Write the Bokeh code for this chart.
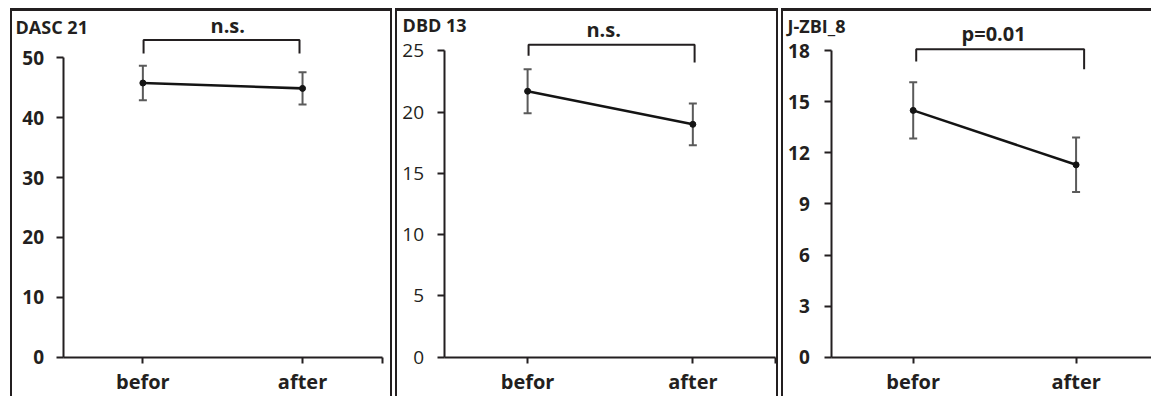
from bokeh.plotting import figure
from bokeh.layouts import row
from bokeh.models import FixedTicker, Range1d, Label, Whisker, ColumnDataSource, TeeHead
from bokeh.embed import file_html
from bokeh.resources import INLINE

# ---------------- data ----------------
categories = ["befor", "after"]
titles = ["DASC 21", "DBD 13", "J-ZBI_8"]
significance = ["n.s.", "n.s.", "p=0.01"]

dasc_mean = [45.8, 44.9]
dasc_err = [2.9, 2.7]
dbd_mean = [21.7, 19.0]
dbd_err = [1.8, 1.7]
zbi_mean = [14.5, 11.3]
zbi_err = [1.65, 1.6]

dasc_ticks = [0, 10, 20, 30, 40, 50]
dbd_ticks = [0, 5, 10, 15, 20, 25]
zbi_ticks = [0, 3, 6, 9, 12, 15, 18]

INK = "#231f20"
FONT = "Open Sans"

# ---------------- layout (page pixels) ----------------
TOP = 11          # canvas top on page
BOTTOM = 396      # canvas bottom on page
AXIS_Y_PAGE = 354  # x axis line on page
TEXT_LIFT = 7     # correction for label baseline placement

B = f"2px solid {INK}"
BT = f"3px solid {INK}"
layouts = [
    dict(origin_x=12, canvas_w=378, yaxis_x=62, xunit=158, ppu=297 / 50, tick_weight="bold",
         standoff=12, tick_size="19px",
         title=(15, 33), sig=(225, 32), br_x=(141.7, 296), br_y=(39.3, 52.7, 52.7),
         margin=(8, 0, 0, 10), bw=4,
         styles={"border-left": B, "border-right": B, "border-top": BT, "box-sizing": "border-box"}),
    dict(origin_x=397, canvas_w=379, yaxis_x=444, xunit=163.5, ppu=304 / 25, tick_weight="normal",
         standoff=14, tick_size="19px",
         title=(402, 31.7), sig=(601, 35.5), br_x=(526.7, 691), br_y=(44, 55, 61.7),
         margin=(8, 0, 0, 3), bw=4,
         styles={"border-left": B, "border-right": B, "border-top": BT, "box-sizing": "border-box"}),
    dict(origin_x=783, canvas_w=368, yaxis_x=831, xunit=162, ppu=304 / 18, tick_weight="bold",
         standoff=15, tick_size="19px",
         title=(787, 32.7), sig=(992, 40), br_x=(915, 1082), br_y=(48.5, 60.7, 68.3),
         margin=(8, 0, 0, 3), bw=2,
         styles={"border-left": B, "border-top": BT, "box-sizing": "border-box"}),
]


def make_panel(i, means, errs, ticks):
    L = layouts[i]
    xunit, ppu = L["xunit"], L["ppu"]

    def dx(px):
        return (px - L["yaxis_x"]) / xunit

    def dy(py):
        return (AXIS_Y_PAGE - py) / ppu

    x_range = Range1d(dx(L["origin_x"]), dx(L["origin_x"] + L["canvas_w"]))
    y_range = Range1d(dy(BOTTOM), dy(TOP))

    p = figure(width=L["canvas_w"] + L["bw"], height=(BOTTOM - TOP) + 3,
               output_backend="svg", toolbar_location=None,
               x_range=x_range, y_range=y_range,
               min_border=0, min_border_left=0, min_border_right=0,
               min_border_top=0, min_border_bottom=0,
               margin=L["margin"], styles=L["styles"])
    p.grid.visible = False
    p.outline_line_color = None
    p.background_fill_color = "white"
    p.border_fill_color = "white"

    xs = [k + 0.5 for k in range(len(categories))]
    upper = [m + e for m, e in zip(means, errs)]
    lower = [m - e for m, e in zip(means, errs)]
    src = ColumnDataSource(dict(x=xs, mean=means, upper=upper, lower=lower))

    # x axis (drawn at y = 0 inside the frame)
    xa = p.xaxis[0]
    xa.fixed_location = 0
    xa.bounds = (0, len(categories))
    xa.ticker = FixedTicker(ticks=xs, minor_ticks=[float(len(categories))])
    xa.major_label_overrides = {x: c for x, c in zip(xs, categories)}
    xa.axis_line_width = 2
    xa.axis_line_color = INK
    xa.major_tick_in = 0
    xa.major_tick_out = 6
    xa.major_tick_line_width = 2
    xa.major_tick_line_color = INK
    xa.minor_tick_in = 0
    xa.minor_tick_out = 6
    xa.minor_tick_line_width = 2
    xa.minor_tick_line_color = INK
    xa.major_label_text_font = FONT
    xa.major_label_text_font_size = "20px"
    xa.major_label_text_font_style = "bold"
    xa.major_label_text_color = INK
    xa.major_label_standoff = 5

    # y axis (drawn at x = 0 inside the frame)
    ya = p.yaxis[0]
    ya.fixed_location = 0
    ya.ticker = FixedTicker(ticks=ticks)
    ya.bounds = (0, ticks[-1])
    ya.axis_line_width = 2
    ya.axis_line_color = INK
    ya.major_tick_in = 0
    ya.major_tick_out = 7
    ya.major_tick_line_width = 2
    ya.major_tick_line_color = INK
    ya.minor_tick_line_color = None
    ya.major_label_text_font = FONT
    ya.major_label_text_font_size = L["tick_size"]
    ya.major_label_text_font_style = L["tick_weight"]
    ya.major_label_text_color = INK
    ya.major_label_standoff = L["standoff"]

    # error bars
    head = dict(size=8, line_color="#5a5a5a", line_width=2)
    p.add_layout(Whisker(base="x", upper="upper", lower="lower", source=src,
                         line_color="#5a5a5a", line_width=2,
                         upper_head=TeeHead(**head), lower_head=TeeHead(**head)))
    # mean line
    p.line("x", "mean", source=src, line_width=2.6, line_color="#141414")
    p.scatter("x", "mean", source=src, size=6, color="#141414")

    # significance bracket
    bx0, bx1 = dx(L["br_x"][0]), dx(L["br_x"][1])
    yh, yl, yr = (dy(v) for v in L["br_y"])
    p.line([bx0, bx0, bx1, bx1], [yl, yh, yh, yr], line_width=2, line_color=INK)

    # labels
    tx, ty = L["title"]
    p.add_layout(Label(x=dx(tx), y=dy(ty - TEXT_LIFT), text=titles[i], text_font=FONT,
                       text_font_size="18px", text_font_style="bold", text_color=INK,
                       text_align="left", text_baseline="alphabetic"))
    sx, sy = L["sig"]
    p.add_layout(Label(x=dx(sx), y=dy(sy - TEXT_LIFT), text=significance[i], text_font=FONT,
                       text_font_size="20px", text_font_style="bold", text_color=INK,
                       text_align="center", text_baseline="alphabetic"))
    return p


p1 = make_panel(0, dasc_mean, dasc_err, dasc_ticks)
p2 = make_panel(1, dbd_mean, dbd_err, dbd_ticks)
p3 = make_panel(2, zbi_mean, zbi_err, zbi_ticks)

layout = row(p1, p2, p3)
open("out.html", "w").write(file_html(layout, INLINE))
